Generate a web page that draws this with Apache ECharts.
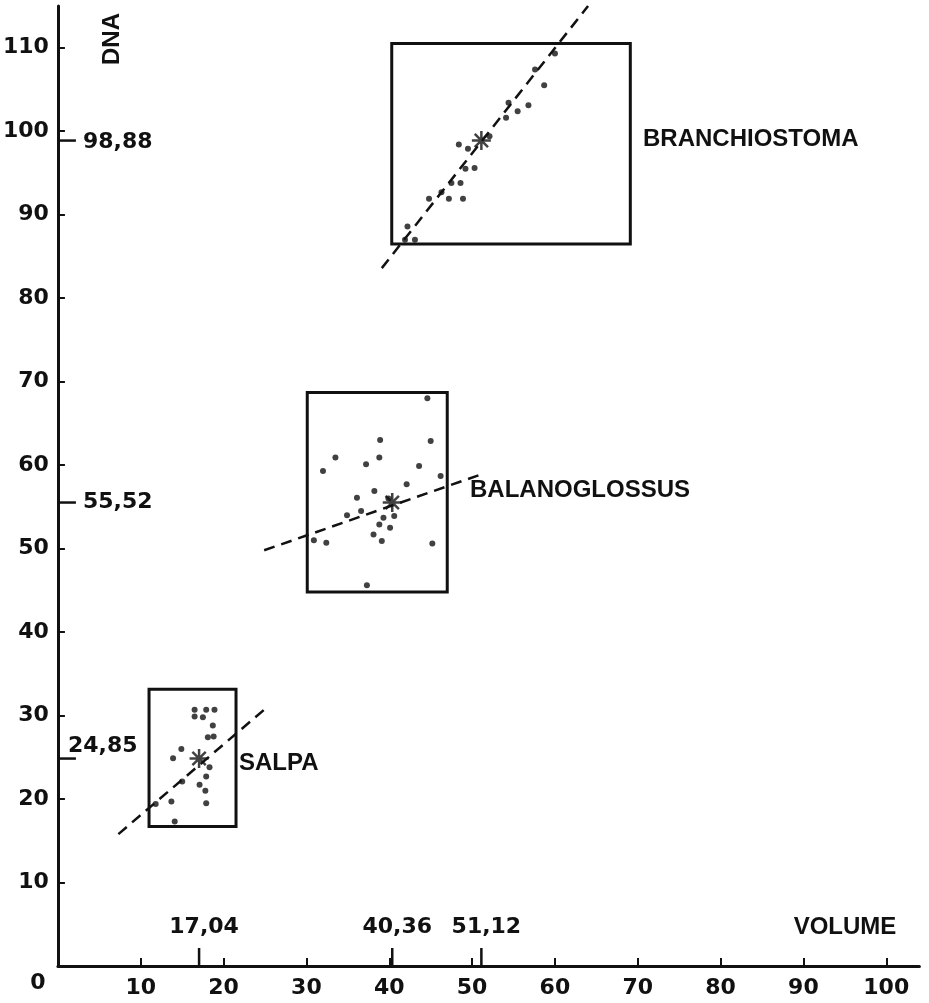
<!DOCTYPE html>
<html><head><meta charset="utf-8">
<script src="https://cdn.jsdelivr.net/npm/echarts@6/dist/echarts.min.js"></script>
<style>html,body{margin:0;padding:0;background:#fff}#c{width:929px;height:1003px}</style>
</head><body><div id="c"></div>
<script>
// ---- data ----
const xTickValues = [10, 20, 30, 40, 50, 60, 70, 80, 90, 100];
const yTickValues = [10, 20, 30, 40, 50, 60, 70, 80, 90, 100, 110];

const branchiostomaPoints = [
  [60.0,109.3],[57.6,107.4],[58.7,105.5],[54.4,103.4],[55.5,102.4],[56.8,103.1],
  [54.1,101.6],[52.1,99.4],[48.4,98.4],[49.5,97.9],[49.2,95.5],[50.3,95.6],
  [47.5,93.8],[48.6,93.8],[46.3,92.7],[44.8,91.9],[47.2,91.9],[48.9,91.9],
  [42.2,88.6],[41.9,87.0],[43.1,87.0]
];
const balanoglossusPoints = [
  [44.6,68.0],[38.9,63.0],[45.0,62.9],[33.5,60.9],[38.8,60.9],[37.2,60.1],
  [43.6,59.9],[32.0,59.3],[46.2,58.7],[42.1,57.7],[38.2,56.9],[36.1,56.1],
  [39.9,56.0],[36.6,54.5],[34.9,54.0],[39.3,53.7],[40.6,53.9],[38.8,52.9],
  [40.1,52.5],[38.1,51.7],[30.9,51.0],[32.4,50.7],[39.1,50.9],[45.2,50.6],
  [37.3,45.6]
];
const salpaPoints = [
  [16.5,30.7],[16.5,29.9],[17.5,29.8],[17.9,30.7],[18.9,30.7],[18.7,28.8],
  [18.1,27.4],[18.8,27.5],[14.9,26.0],[13.9,24.9],[18.3,23.8],[17.9,22.7],
  [15.0,22.1],[17.1,21.7],[17.8,21.0],[13.7,19.7],[11.8,19.4],[17.9,19.5],
  [14.1,17.3]
];
// boxes: [xMin, yMin, xMax, yMax]
const branchiostomaBox = [40.3, 86.5, 69.1, 110.5];
const balanoglossusBox = [30.1, 44.8, 47.0, 68.7];
const salpaBox = [11.0, 16.7, 21.5, 33.15];
// regression lines (end points)
const branchiostomaLine = [[39.1, 83.6], [64.0, 115.0]];
const balanoglossusLine = [[24.9, 49.8], [51.4, 59.0]];
const salpaLine = [[7.3, 15.8], [24.9, 30.7]];
// centroids (volume, DNA)
const centroidVolume = [17.04, 40.36, 51.12];
const centroidDNA = [24.85, 55.52, 98.88];
const centroidVolumeLabels = ['17,04', '40,36', '51,12'];
const centroidDNALabels = ['24,85', '55,52', '98,88'];
const groupNames = ['SALPA', 'BALANOGLOSSUS', 'BRANCHIOSTOMA'];

// ---- chart ----
const INK = '#111111';
const NUM_FONT = 'bold 22px "DejaVu Sans"';
const WORD_FONT = 'bold 24px "Liberation Sans"';

const chart = echarts.init(document.getElementById('c'), null, {renderer: 'canvas'});

function asteriskPath(){ return 'path://M0,10L20,10M10,0L10,20M3,3L17,17M17,3L3,17'; }

const option = {
  backgroundColor: '#ffffff',
  animation: false,
  grid: {left: 52, right: 9.6, top: 6, bottom: 37, containLabel: false},
  xAxis: {
    type: 'value', min: 0, max: 104, interval: 10,
    axisLine: {show: true, lineStyle: {color: INK, width: 3}},
    axisTick: {show: true, inside: true, length: 8, lineStyle: {color: INK, width: 2}, customValues: xTickValues},
    axisLabel: {show: true, customValues: xTickValues, margin: 11, color: INK,
      fontFamily: 'DejaVu Sans', fontWeight: 'bold', fontSize: 22},
    splitLine: {show: false}
  },
  yAxis: {
    type: 'value', min: 0, max: 115, interval: 10,
    axisLine: {show: true, lineStyle: {color: INK, width: 3}},
    axisTick: {show: true, inside: true, length: 7, lineStyle: {color: INK, width: 2}, customValues: yTickValues},
    axisLabel: {show: true, customValues: yTickValues, margin: 9, color: INK,
      fontFamily: 'DejaVu Sans', fontWeight: 'bold', fontSize: 22},
    splitLine: {show: false}
  },
  graphic: [
    {type: 'text', x: 38, y: 983, style: {text: '0', font: NUM_FONT, fill: INK, align: 'center', verticalAlign: 'middle'}},
    {type: 'text', x: 112, y: 39, rotation: Math.PI / 2, style: {text: 'DNA', font: WORD_FONT, fill: INK, align: 'center', verticalAlign: 'middle'}},
    {type: 'text', x: 845, y: 927, style: {text: 'VOLUME', font: WORD_FONT, fill: INK, align: 'center', verticalAlign: 'middle'}},
    {type: 'text', x: 643, y: 139, style: {text: groupNames[2], font: WORD_FONT, fill: INK, align: 'left', verticalAlign: 'middle'}},
    {type: 'text', x: 470, y: 490, style: {text: groupNames[1], font: WORD_FONT, fill: INK, align: 'left', verticalAlign: 'middle'}},
    {type: 'text', x: 239, y: 763, style: {text: groupNames[0], font: WORD_FONT, fill: INK, align: 'left', verticalAlign: 'middle'}}
  ],
  series: []
};

// boxes
option.series.push({
  type: 'custom', clip: false, silent: true,
  data: [salpaBox, balanoglossusBox, branchiostomaBox],
  renderItem: function (params, api) {
    const p0 = api.coord([api.value(0), api.value(3)]);
    const p1 = api.coord([api.value(2), api.value(1)]);
    return {type: 'rect', shape: {x: p0[0], y: p0[1], width: p1[0] - p0[0], height: p1[1] - p0[1]},
      style: {fill: 'none', stroke: INK, lineWidth: 3}};
  }
});

// regression lines
[salpaLine, balanoglossusLine, branchiostomaLine].forEach(function (ln) {
  option.series.push({type: 'line', data: ln, symbol: 'none', silent: true, clip: false,
    lineStyle: {color: INK, width: 2.5, type: [11, 7]}});
});

// points
[salpaPoints, balanoglossusPoints, branchiostomaPoints].forEach(function (pts) {
  option.series.push({type: 'scatter', data: pts, symbol: 'circle', symbolSize: 6, silent: true,
    itemStyle: {color: INK}});
});

// centroid asterisks
option.series.push({
  type: 'scatter', silent: true,
  data: centroidVolume.map(function (v, i) { return [v, centroidDNA[i]]; }),
  symbol: asteriskPath(), symbolSize: 19,
  itemStyle: {color: 'none', borderColor: INK, borderWidth: 2.5}
});

// special ticks on x axis
option.series.push({
  type: 'custom', clip: false, silent: true,
  data: centroidVolume.map(function (v) { return [v, 0]; }),
  renderItem: function (params, api) {
    const p = api.coord([api.value(0), 0]);
    return {type: 'group', children: [
      {type: 'line', shape: {x1: p[0], y1: p[1], x2: p[0], y2: p[1] - 18}, style: {stroke: INK, lineWidth: 2.5}},
      {type: 'text', x: p[0] + 5, y: p[1] - 39, style: {text: centroidVolumeLabels[params.dataIndex], font: NUM_FONT, fill: INK, align: 'center', verticalAlign: 'middle'}}
    ]};
  }
});

// special ticks on y axis
const yLabelOffsets = [[10, -12], [25, 0], [25, 2]];
option.series.push({
  type: 'custom', clip: false, silent: true,
  data: centroidDNA.map(function (v) { return [0, v]; }),
  renderItem: function (params, api) {
    const p = api.coord([0, api.value(1)]);
    const off = yLabelOffsets[params.dataIndex];
    return {type: 'group', children: [
      {type: 'line', shape: {x1: p[0], y1: p[1], x2: p[0] + 18, y2: p[1]}, style: {stroke: INK, lineWidth: 2.5}},
      {type: 'text', x: p[0] + off[0], y: p[1] + off[1], style: {text: centroidDNALabels[params.dataIndex], font: NUM_FONT, fill: INK, align: 'left', verticalAlign: 'middle'}}
    ]};
  }
});

chart.setOption(option);
</script>
</body></html>
